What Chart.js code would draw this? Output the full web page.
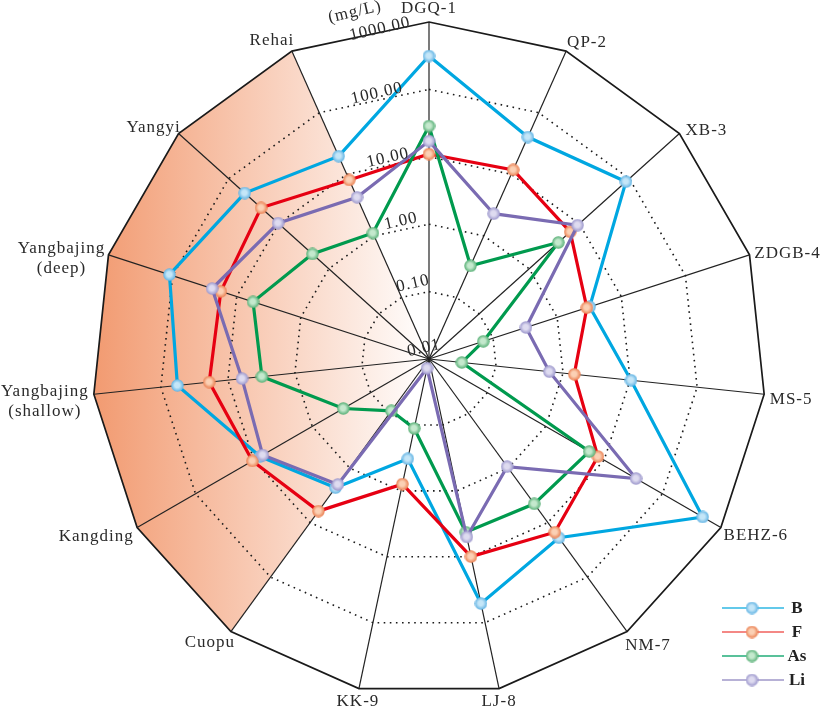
<!DOCTYPE html>
<html>
<head>
<meta charset="utf-8">
<title>Radar</title>
<script src="https://cdn.jsdelivr.net/npm/chart.js@4"></script>
<style>
  html, body { margin: 0; padding: 0; background: #fff; }
  canvas { display: block; }
</style>
</head>
<body>
<canvas id="radar" width="823" height="710"></canvas>
<script>
// concentrations in mg/L
const categories = ['DGQ-1', 'QP-2', 'XB-3', 'ZDGB-4', 'MS-5', 'BEHZ-6', 'NM-7', 'LJ-8', 'KK-9', 'Cuopu',
  'Kangding', ['Yangbajing', '(shallow)'], ['Yangbajing', '(deep)'], 'Yangyi', 'Rehai'];
const bValues = [313, 40.3, 85.5, 3.21, 10.3, 488, 19.0, 51.2, 0.326, 2.29, 7.82, 56.7, 112, 47.8, 19.7];
const fValues = [11.0, 11.8, 6.59, 2.90, 1.47, 7.82, 15.0, 9.93, 0.79, 6.16, 10.6, 19.0, 17.7, 22.5, 8.09];
const asValues = [28.6, 0.326, 3.82, 0.0702, 0.0309, 5.56, 4.53, 4.23, 0.113, 0.0891, 0.294, 3.11, 5.56, 2.13, 1.11];
const liValues = [17.1, 2.29, 9.27, 0.326, 0.624, 35.2, 0.94, 5.01, 0.0138, 2.0, 7.06, 6.16, 24.2, 10.3, 4.23];
const tickLabels = ['0.01', '0.10', '1.00', '10.00', '100.00', '1000.00'];
const unitLabel = '(mg/L)';

// where each category label sits relative to its spoke end
const labelOffsets = [[0, -13], [21, -9], [27, -3], [38, -1], [27, 5], [35, 8], [21, 14], [0, 13], [-1, 13],
  [-21, 11], [-41, 9], [-49, -3], [-47, -6], [-25, -6], [-20, -11]];
// same for the rotated tick labels, relative to the ring on the top spoke
const tickOffsets = [[-5, -11], [-16, -8], [-28, -3], [-41, 1], [-52, 4], [-49, 7]];

const FONT_FAMILY = '"Liberation Serif", serif';
const TEXT_COLOR = '#2a2a2a';
const SHADE_FROM = 9;   // Cuopu
const SHADE_TO = 14;    // Rehai

const SERIES = [
  { label: 'B', data: bValues, line: '#00a7e1', key: '#2fb7e3', light: '#c4e6f8', edge: '#5fb2e3', order: 4 },
  { label: 'F', data: fValues, line: '#e60012', key: '#f0605c', light: '#fbd0b4', edge: '#ea7d4e', order: 3 },
  { label: 'As', data: asValues, line: '#009a4e', key: '#22ad78', light: '#c4e9cd', edge: '#55ae74', order: 2 },
  { label: 'Li', data: liValues, line: '#7a6bb2', key: '#9f97c9', light: '#dedbf0', edge: '#9a95cb', order: 1 }
];

// little shaded ball used as point marker
function makeBall(s) {
  const size = 13;
  const c = document.createElement('canvas');
  c.width = size;
  c.height = size;
  const g = c.getContext('2d');
  const grad = g.createRadialGradient(6, 6, 0.5, 6.5, 6.5, 6.3);
  grad.addColorStop(0, s.light);
  grad.addColorStop(0.35, s.light);
  grad.addColorStop(1, s.edge);
  g.fillStyle = grad;
  g.beginPath();
  g.arc(6.5, 6.5, 6.2, 0, Math.PI * 2);
  g.fill();
  return c;
}
SERIES.forEach(s => { s.ball = makeBall(s); });

// orange wedge behind the grid
const shadePlugin = {
  id: 'shade',
  beforeDraw(chart) {
    const r = chart.scales.r;
    const ctx = chart.ctx;
    const grad = ctx.createLinearGradient(r.xCenter - r.drawingArea, 0, r.xCenter, 0);
    grad.addColorStop(0, '#f29a70');
    grad.addColorStop(1, '#ffffff');
    ctx.save();
    ctx.beginPath();
    ctx.moveTo(r.xCenter, r.yCenter);
    for (let i = SHADE_FROM; i <= SHADE_TO; i++) {
      const p = r.getPointPositionForValue(i, r.max);
      ctx.lineTo(p.x, p.y);
    }
    ctx.closePath();
    ctx.fillStyle = grad;
    ctx.fill();
    ctx.restore();
  }
};

function spacedText(ctx, text, x, y) {
  ctx.letterSpacing = '1px';
  ctx.fillText(text, x, y);
  ctx.letterSpacing = '0px';
}

const textPlugin = {
  id: 'texts',
  afterDraw(chart) {
    const r = chart.scales.r;
    const ctx = chart.ctx;
    ctx.save();
    ctx.fillStyle = TEXT_COLOR;
    ctx.textAlign = 'center';
    ctx.textBaseline = 'middle';
    ctx.font = '17px ' + FONT_FAMILY;

    // category labels
    categories.forEach((name, i) => {
      const p = r.getPointPositionForValue(i, r.max);
      const lines = Array.isArray(name) ? name : [name];
      lines.forEach((line, k) => {
        spacedText(ctx, line, p.x + labelOffsets[i][0], p.y + labelOffsets[i][1] + k * 20);
      });
    });

    // tick labels, tilted along the ring
    r.ticks.forEach((tick, i) => {
      const p = r.getPointPositionForValue(0, tick.value);
      ctx.save();
      ctx.translate(p.x + tickOffsets[i][0], p.y + tickOffsets[i][1]);
      ctx.rotate(-13 * Math.PI / 180);
      spacedText(ctx, tickLabels[i], 0, 0);
      ctx.restore();
    });
    const top = r.getPointPositionForValue(0, r.max);
    ctx.save();
    ctx.translate(top.x - 74, top.y - 10);
    ctx.rotate(-13 * Math.PI / 180);
    spacedText(ctx, unitLabel, 0, 0);
    ctx.restore();

    // legend
    SERIES.forEach((s, i) => {
      const y = 608 + i * 24;
      ctx.strokeStyle = s.key;
      ctx.lineWidth = 1.6;
      ctx.beginPath();
      ctx.moveTo(722, y);
      ctx.lineTo(784, y);
      ctx.stroke();
      ctx.drawImage(s.ball, 752 - 6.5, y - 6.5);
      ctx.font = 'bold 17px ' + FONT_FAMILY;
      ctx.fillStyle = '#222';
      ctx.fillText(s.label, 797, y + 1);
    });
    ctx.restore();
  }
};

new Chart(document.getElementById('radar').getContext('2d'), {
  type: 'radar',
  data: {
    labels: categories,
    datasets: SERIES.map(s => ({
      label: s.label,
      data: s.data.map(v => Math.log10(v)),
      borderColor: s.line,
      borderWidth: 3.2,
      fill: false,
      tension: 0,
      order: s.order,
      pointStyle: s.ball,
      pointRadius: 6.5
    }))
  },
  options: {
    responsive: false,
    animation: false,
    devicePixelRatio: 1,
    layout: { padding: { left: 92, right: 57, top: 22, bottom: 14 } },
    plugins: { legend: { display: false }, tooltip: { enabled: false } },
    scales: {
      r: {
        min: -2,
        max: 3,
        ticks: { stepSize: 1, display: false },
        pointLabels: { display: false },
        angleLines: { color: '#222', lineWidth: 1.2 },
        grid: {
          color: '#1a1a1a',
          lineWidth: ctx => (ctx.index === tickLabels.length - 1 ? 1.7 : 1.6)
        },
        border: {
          dash: ctx => (ctx.index === tickLabels.length - 1 ? [] : [1.6, 4.5])
        }
      }
    }
  },
  plugins: [shadePlugin, textPlugin]
});
</script>
</body>
</html>
